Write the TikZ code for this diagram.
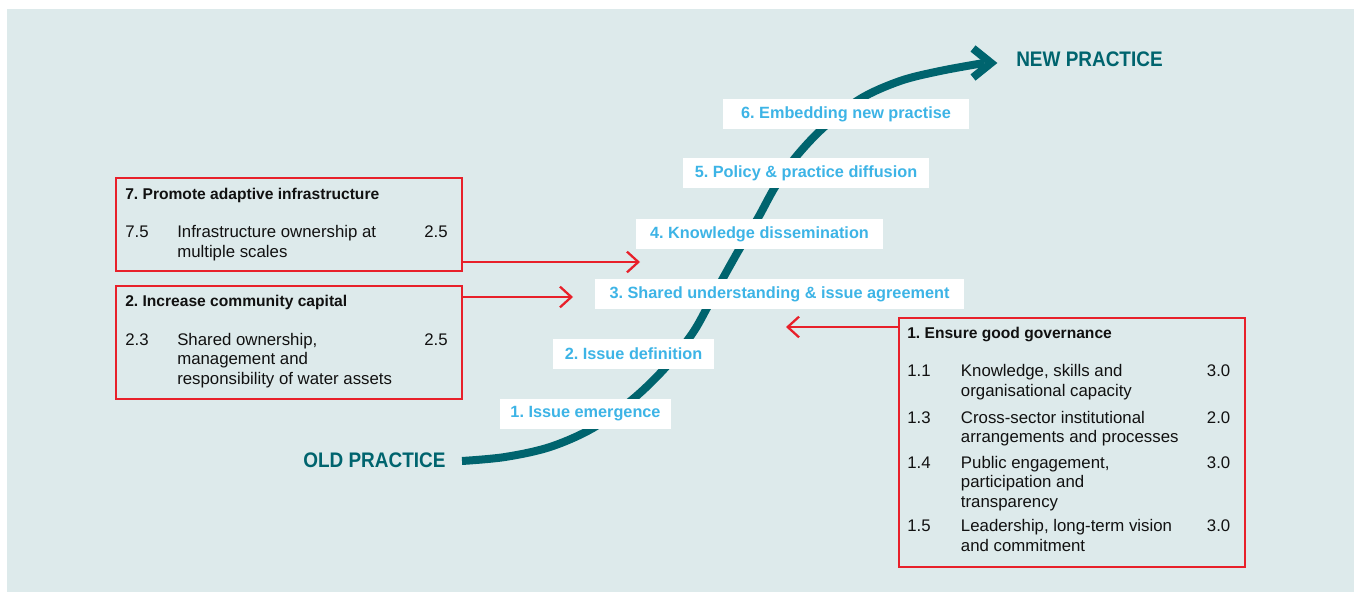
\documentclass[tikz,border=0pt]{standalone}
\usepackage{fontspec}
\setmainfont{Liberation Sans}
\newfontfamily\condfont[FakeStretch=0.9]{Liberation Sans}
\usetikzlibrary{arrows.meta,fit}
\definecolor{bgc}{HTML}{DDEAEB}
\definecolor{tealc}{HTML}{00646E}
\definecolor{redc}{HTML}{E8202A}
\definecolor{bluec}{HTML}{3DB4E6}
\definecolor{txtc}{HTML}{111111}
\newcommand{\mlines}[1]{\parbox[t]{240pt}{\raggedright #1}}
\frenchspacing
\begin{document}
\begin{tikzpicture}[x=0.75pt,y=-0.75pt,
  redbox/.style={draw=redc, line width=2.1pt, inner sep=0pt},
  redarrow/.style={draw=redc, line width=1.7pt, -{Straight Barb[length=8.5pt,width=15.5pt]}},
  stage/.style={fill=white, text=bluec, font=\fontsize{12.2}{14}\selectfont\bfseries, minimum height=22.5pt, inner sep=0pt},
  boxtitle/.style={anchor=base west, inner sep=0pt, text=txtc, font=\fontsize{11.7}{14}\selectfont\bfseries},
  body/.style={anchor=base west, inner sep=0pt, text=txtc, font=\fontsize{12.6}{14.7}\selectfont},
  practice/.style={anchor=base west, inner sep=0pt, text=tealc, font=\condfont\bfseries\fontsize{15.8}{18}\selectfont}]
\useasboundingbox (0,0) rectangle (1356,592);
\fill[white] (0,0) rectangle (1356,592);
\fill[bgc] (7,9) rectangle (1354,592);

% S-curve
\node[practice] (old) at (303,467) {OLD PRACTICE};
\node[practice] (new) at (1016,66.7) {NEW PRACTICE};
\draw[tealc, line width=6pt] plot[smooth, tension=0.55] coordinates {
  (462,461) (505,457) (550,447) (593,428) (633,399) (665,368) (692,334)
  (708,306) (722,280) (740,248) (758,218) (775,187) (795,158) (823,128)
  (860,99) (900,81) (940,71) (984,63)};
\draw[tealc, line width=6pt, miter limit=10] (973,48.5) -- (991,63) -- (973,77.5);

% stage labels
\node[stage, minimum width=246*0.75pt] (s6) at (846,114) {6. Embedding new practise};
\node[stage, minimum width=246*0.75pt] (s5) at (806,173) {5. Policy \& practice diffusion};
\node[stage, minimum width=247*0.75pt] (s4) at (759.5,234) {4. Knowledge dissemination};
\node[stage, minimum width=369*0.75pt] (s3) at (779.5,294) {3. Shared understanding \& issue agreement};
\node[stage, minimum width=161*0.75pt] (s2) at (633.5,354) {2. Issue definition};
\node[stage, minimum width=171*0.75pt] (s1) at (585.5,414) {1. Issue emergence};

% red boxes
\node[redbox, fit={(116,178) (462,271)}] (b7) {};
\node[redbox, fit={(116,286) (462,399)}] (b2) {};
\node[redbox, fit={(899,318) (1245,567)}] (b1) {};

% red arrows
\coordinate (t7) at (640,262);
\coordinate (t2) at (573,297);
\coordinate (t1) at (786,327);
\draw[redarrow] (b7.east |- t7) -- (t7);
\draw[redarrow] (b2.east |- t2) -- (t2);
\draw[redarrow] (b1.west |- t1) -- (t1);

% box 7
\node[boxtitle] (h7) at (125,199.3) {7. Promote adaptive infrastructure};
\node[body] (n75) at (125,237.7) {7.5};
\node[body] (d75) at (177,237.7) {\mlines{Infrastructure ownership at\\multiple scales}};
\node[body] (v75) at (424,237.7) {2.5};

% box 2
\node[boxtitle] (h2) at (125,306.7) {2. Increase community capital};
\node[body] (n23) at (125,345) {2.3};
\node[body] (d23) at (177,345) {\mlines{Shared ownership,\\management and\\responsibility of water assets}};
\node[body] (v23) at (424,345) {2.5};

% box 1
\node[boxtitle] (h1) at (907,338.3) {1. Ensure good governance};
\node[body] (n11) at (907,376.7) {1.1};
\node[body] (d11) at (960.7,376.7) {\mlines{Knowledge, skills and\\organisational capacity}};
\node[body] (v11) at (1206.7,376.7) {3.0};
\node[body] (n13) at (907,423) {1.3};
\node[body] (d13) at (960.7,423) {\mlines{Cross-sector institutional\\arrangements and processes}};
\node[body] (v13) at (1206.7,423) {2.0};
\node[body] (n14) at (907,468.3) {1.4};
\node[body] (d14) at (960.7,468.3) {\mlines{Public engagement,\\participation and\\transparency}};
\node[body] (v14) at (1206.7,468.3) {3.0};
\node[body] (n15) at (907,531.7) {1.5};
\node[body] (d15) at (960.7,531.7) {\mlines{Leadership, long-term vision\\and commitment}};
\node[body] (v15) at (1206.7,531.7) {3.0};
\end{tikzpicture}
\end{document}
